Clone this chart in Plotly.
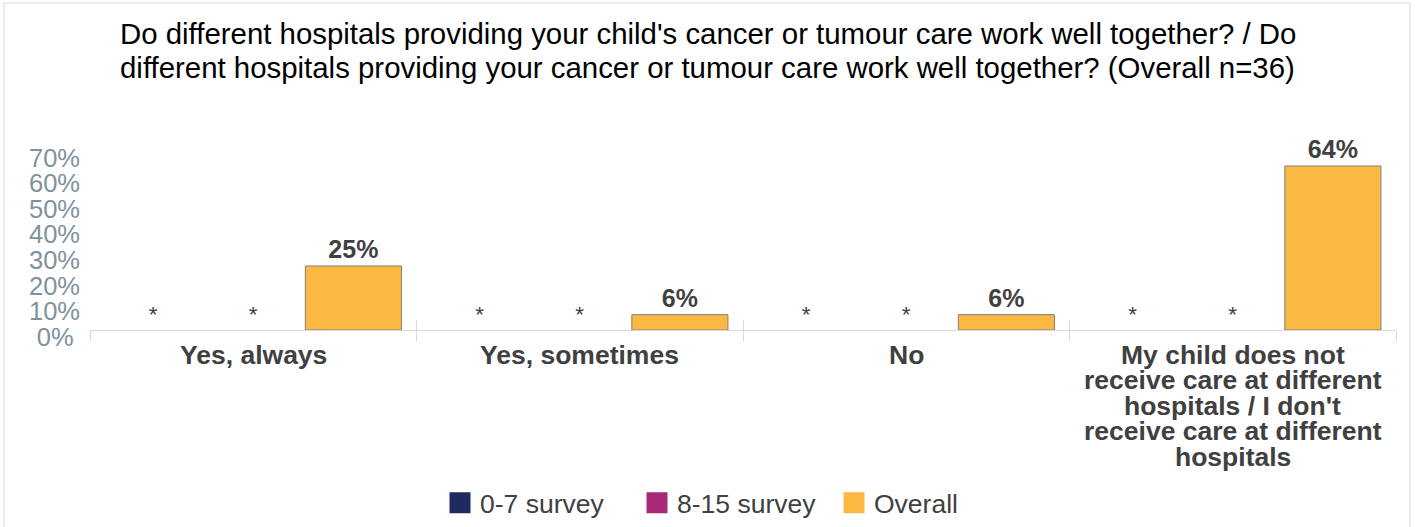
import plotly.graph_objects as go

# ---------------- data ----------------
CATEGORIES = [
    "Yes, always",
    "Yes, sometimes",
    "No",
    "My child does not receive care at different hospitals / I don't receive care at different hospitals",
]
TICK_LABELS = [
    "Yes, always",
    "Yes, sometimes",
    "No",
    "My child does not<br>receive care at different<br>hospitals / I don't<br>receive care at different<br>hospitals",
]
SERIES_NAMES = ["0-7 survey", "8-15 survey", "Overall"]
SURVEY_0_7 = [0, 0, 0, 0]          # suppressed (shown as *)
SURVEY_8_15 = [0, 0, 0, 0]         # suppressed (shown as *)
SUPPRESSED_TEXT = ["*", "*", "*", "*"]
OVERALL = [0.25, 0.06, 0.06, 0.64]
Y_TICKS = [0, 0.1, 0.2, 0.3, 0.4, 0.5, 0.6, 0.7]
Y_TICK_TEXT = ["0%\u2005", "10%", "20%", "30%", "40%", "50%", "60%", "70%"]
TITLE_LINES = [
    "Do different hospitals providing your child's cancer or tumour care work well together? / Do",
    "different hospitals providing your cancer or tumour care work well together? (Overall n=36)",
]

COLORS = ["#1F2B5E", "#A8297A", "#FBB941"]
FONT = "Liberation Sans, Arial, sans-serif"
TXT = "#404040"
GRID = "#D9D9D9"

# ---------------- geometry (pixels) ----------------
W, H = 1415, 527
L, R = 90, 19
BASE = 330          # pixel row of value 0 on the bar scale
SHIFT = 7           # tick labels sit a little below the bar scale
TOP = 125
BOT = BASE + SHIFT
PH = BOT - TOP
DEL = SHIFT / PH


def py(p):
    return (BOT - p) / PH


def px(p):
    return (p - L) / (W - L - R)


fig = go.Figure()

fig.add_trace(go.Bar(x=CATEGORIES, y=SURVEY_0_7, name=SERIES_NAMES[0], text=SUPPRESSED_TEXT,
                     textposition="outside", marker=dict(color=COLORS[0], line=dict(width=0)),
                     textfont=dict(size=22.5, color=TXT, family=FONT), cliponaxis=False, showlegend=False))
fig.add_trace(go.Bar(x=CATEGORIES, y=SURVEY_8_15, name=SERIES_NAMES[1], text=SUPPRESSED_TEXT,
                     textposition="outside", marker=dict(color=COLORS[1], line=dict(width=0)),
                     textfont=dict(size=22.5, color=TXT, family=FONT), cliponaxis=False, showlegend=False))
fig.add_trace(go.Bar(x=CATEGORIES, y=OVERALL, name=SERIES_NAMES[2], texttemplate="<b>%{y:.0%}</b>",
                     textposition="outside", marker=dict(color=COLORS[2], line=dict(color="#808080", width=1)),
                     textfont=dict(size=25, color=TXT, family=FONT), cliponaxis=False, showlegend=False))

# legend entries (larger squares)
for name, col in zip(SERIES_NAMES, COLORS):
    fig.add_trace(go.Scatter(x=[None], y=[None], mode="markers", name=name,
                             marker=dict(symbol="square", size=16, color=col, line=dict(color=col, width=5))))

# helper traces for the tick-label axis and the upper tick marks
fig.add_trace(go.Scatter(x=CATEGORIES, y=[None] * len(CATEGORIES), xaxis="x", yaxis="y2",
                         mode="markers", showlegend=False, hoverinfo="skip"))
fig.add_trace(go.Scatter(x=CATEGORIES, y=[None] * len(CATEGORIES), xaxis="x2", yaxis="y",
                         mode="markers", showlegend=False, hoverinfo="skip"))

# category labels (tight line spacing)
for cat, lab in zip(CATEGORIES, TICK_LABELS):
    for k, line in enumerate(lab.split("<br>")):
        fig.add_annotation(x=cat, xref="x", y=0, yref="y", yanchor="middle",
                           yshift=-24.5 - 25.6 * k, text="<b>" + line + "</b>", showarrow=False,
                           borderpad=0, font=dict(size=26.5, color=TXT, family=FONT))

# title (two lines, tight spacing)
for k, line in enumerate(TITLE_LINES):
    fig.add_annotation(x=px(707.5), xref="paper", y=py(34 + 33.5 * k), yref="paper",
                       xanchor="center", yanchor="middle", text=line, showarrow=False,
                       borderpad=0, font=dict(size=29.4, color="#000000", family=FONT))

fig.update_layout(
    width=W, height=H,
    margin=dict(l=L, r=R, t=TOP, b=H - BOT, autoexpand=False),
    paper_bgcolor="white", plot_bgcolor="rgba(0,0,0,0)",
    barmode="group", bargap=0.08, bargroupgap=0.04,
    font=dict(family=FONT, color=TXT),
    xaxis=dict(type="category", categoryarray=CATEGORIES, showticklabels=False, showline=True,
               linecolor=GRID, linewidth=1, ticks="outside", tickson="boundaries", ticklen=10,
               tickcolor=GRID, showgrid=False, zeroline=False, range=[-0.5, 3.5], anchor="y",
               automargin=False),
    xaxis2=dict(type="category", categoryarray=CATEGORIES, overlaying="x", anchor="y", side="bottom",
                showticklabels=False, showline=False, ticks="inside", tickson="boundaries", ticklen=10,
                tickcolor=GRID, showgrid=False, zeroline=False, range=[-0.5, 3.5], automargin=False),
    yaxis=dict(domain=[DEL, 1], range=[0, 0.8], showticklabels=False, showgrid=False,
               zeroline=False, showline=False, automargin=False),
    yaxis2=dict(domain=[0, 1 - DEL], range=[0, 0.8], anchor="x", side="left", tickvals=Y_TICKS,
                ticktext=Y_TICK_TEXT, showgrid=False, zeroline=False, showline=False, ticks="",
                ticklen=0, ticklabelstandoff=9, automargin=False,
                tickfont=dict(size=25.5, color="#7F929E", family=FONT)),
    legend=dict(orientation="h", x=px(440), xanchor="left", y=py(503), yanchor="middle",
                font=dict(size=26.5, color=TXT, family=FONT), itemsizing="trace", itemclick=False,
                entrywidth=152, entrywidthmode="pixels", bgcolor="rgba(0,0,0,0)"),
    shapes=[dict(type="rect", xref="paper", yref="paper", x0=px(4), x1=px(1410),
                 y0=py(560), y1=py(3), line=dict(color=GRID, width=1), layer="below")],
)

fig.write_html("out.html", config={"displayModeBar": False},
               post_script="document.body.style.margin='0';")
